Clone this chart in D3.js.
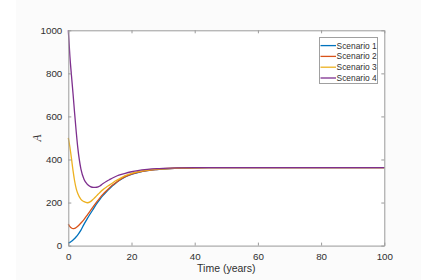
<!DOCTYPE html>
<html>
<head>
<meta charset="utf-8">
<script src="https://cdn.jsdelivr.net/npm/d3@7"></script>
<style>
  html, body { margin: 0; padding: 0; background: #ffffff; }
  svg { display: block; }
</style>
</head>
<body>
<svg id="chart" width="438" height="280"></svg>
<script>
const time = [0, 0.5, 1, 1.5, 2, 2.5, 3, 4, 5, 6, 7, 8, 9, 10, 11, 12, 13, 14, 15, 16, 18, 20, 22, 25, 28, 30, 35, 40, 50, 60, 80, 100];
const scenario1 = [12, 15, 20, 26, 33, 41, 50, 72, 100, 125, 149, 172, 195, 215, 233, 249, 264, 278, 290, 301, 319, 331, 339, 348, 353, 355.5, 359.5, 361.5, 362, 362, 362, 362];
const scenario2 = [100, 88, 82, 79, 80, 84, 90, 105, 122, 142, 162, 183, 203, 222, 239, 254, 268, 281, 292, 303, 320, 332, 340, 348.5, 353.5, 356, 360, 361.5, 362, 362, 362, 362];
const scenario3 = [500, 458, 405, 348, 300, 265, 242, 215, 204, 199, 204, 217, 232, 247, 260, 271, 281, 291, 301, 309, 325, 336, 343, 350.5, 355, 357, 360.5, 361.5, 362, 362, 362, 362];
const scenario4 = [1000, 880, 790, 705, 615, 530, 455, 355, 307, 285, 274, 270, 271, 277, 288, 298, 306, 314, 321, 327, 336, 343, 348.5, 354, 357.5, 359, 361, 362, 362, 362, 362, 362];
const seriesNames = ["Scenario 1", "Scenario 2", "Scenario 3", "Scenario 4"];
const seriesColors = ["#0072BD", "#D95319", "#EDB120", "#7E2F8E"];
const xTicks = [0, 20, 40, 60, 80, 100];
const yTicks = [0, 200, 400, 600, 800, 1000];

const seriesValues = [scenario1, scenario2, scenario3, scenario4];

const svg = d3.select("#chart");
const W = 438, H = 280;
const pLeft = 68.3, pRight = 384.3, pTop = 30.3, pBottom = 245.6;

svg.append("rect").attr("x", 16).attr("y", 0).attr("width", 405).attr("height", H).attr("fill", "#fbfbfb");

const x = d3.scaleLinear().domain([0, 100]).range([pLeft, pRight]);
const y = d3.scaleLinear().domain([0, 1000]).range([pBottom, pTop]);

svg.append("rect").attr("x", pLeft).attr("y", pTop).attr("width", pRight - pLeft).attr("height", pBottom - pTop).attr("fill", "#ffffff");

const font = "'Liberation Sans', Arial, Helvetica, sans-serif";
const axisColor = "#9a9a9a";
const textColor = "#303030";

const line = d3.line()
  .x((d, i) => x(time[i]))
  .y(d => y(d))
  .curve(d3.curveMonotoneX);

const plot = svg.append("g");
seriesValues.forEach((vals, k) => {
  plot.append("path")
    .attr("d", line(vals))
    .attr("fill", "none")
    .attr("stroke", seriesColors[k])
    .attr("stroke-width", 1.3);
});

const fmt = d3.format("d");
const xAxis = d3.axisBottom(x).tickValues(xTicks).tickFormat(fmt).tickSizeInner(-3).tickSizeOuter(0).tickPadding(7);
const yAxis = d3.axisLeft(y).tickValues(yTicks).tickFormat(fmt).tickSizeInner(-3).tickSizeOuter(0).tickPadding(6);
const xTop = d3.axisTop(x).tickValues(xTicks).tickSizeInner(-3).tickSizeOuter(0).tickFormat("");
const yRight = d3.axisRight(y).tickValues(yTicks).tickSizeInner(-3).tickSizeOuter(0).tickFormat("");

function styleAxis(g) {
  g.select(".domain").attr("stroke", axisColor).attr("stroke-width", 1);
  g.selectAll(".tick line").attr("stroke", axisColor).attr("stroke-width", 1);
  g.selectAll(".tick text").attr("fill", textColor).style("font-family", font).style("font-size", "9.8px");
}

svg.append("g").attr("transform", `translate(0,${pBottom})`).call(xAxis).call(styleAxis);
svg.append("g").attr("transform", `translate(${pLeft},0)`).call(yAxis).call(styleAxis);
svg.append("g").attr("transform", `translate(0,${pTop})`).call(xTop).call(styleAxis);
svg.append("g").attr("transform", `translate(${pRight},0)`).call(yRight).call(styleAxis);

svg.append("text")
  .attr("x", (pLeft + pRight) / 2)
  .attr("y", 272)
  .attr("text-anchor", "middle")
  .attr("fill", textColor)
  .style("font-family", font)
  .style("font-size", "10.5px")
  .text("Time (years)");

svg.append("text")
  .attr("transform", `translate(41,${(pTop + pBottom) / 2}) rotate(-90)`)
  .attr("text-anchor", "middle")
  .attr("fill", textColor)
  .style("font-family", "'Liberation Serif', 'DejaVu Serif', serif")
  .style("font-style", "italic")
  .style("font-size", "11.5px")
  .text("A");

const lg = svg.append("g");
lg.append("rect")
  .attr("x", 319.5).attr("y", 37.5).attr("width", 58).attr("height", 46)
  .attr("fill", "#ffffff").attr("stroke", "#a0a0a0").attr("stroke-width", 1);
seriesNames.forEach((name, k) => {
  const cy = 45.6 + k * 10.8;
  lg.append("line").attr("x1", 320.5).attr("x2", 336).attr("y1", cy).attr("y2", cy)
    .attr("stroke", seriesColors[k]).attr("stroke-width", 1.3);
  lg.append("text").attr("x", 336.6).attr("y", cy).attr("dy", "0.35em")
    .attr("fill", textColor)
    .style("font-family", font).style("font-size", "8.4px")
    .text(name);
});
</script>
</body>
</html>
